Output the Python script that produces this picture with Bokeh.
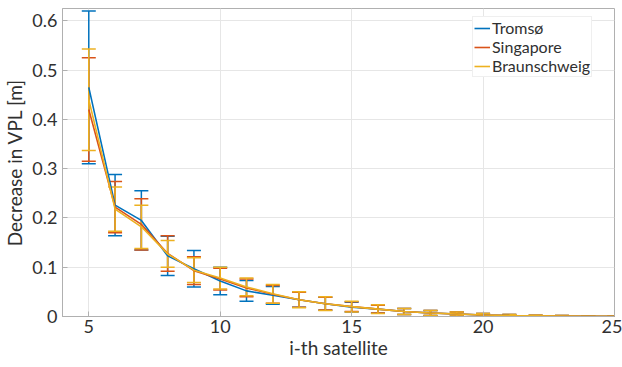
from bokeh.plotting import figure
from bokeh.models import Whisker, TeeHead, ColumnDataSource, Legend, LegendItem, FixedTicker
from bokeh.embed import file_html
from bokeh.resources import INLINE
import numpy as np

sat = list(range(5, 26))

tromso_mean = [0.465, 0.226, 0.195, 0.123, 0.097, 0.072, 0.052, 0.043, 0.034, 0.026, 0.019,
               0.015, 0.010, 0.007, 0.005, 0.003, 0.002, 0.0015, 0.001, 0.0005, 0.0002]
tromso_err = [0.155, 0.062, 0.060, 0.040, 0.037, 0.028, 0.021, 0.018, 0.015, 0.013, 0.010,
              0.008, 0.006, 0.005, 0.004, 0.003, 0.002, 0.001, 0.001, 0.0005, 0.0002]

singapore_mean = [0.420, 0.222, 0.187, 0.128, 0.093, 0.076, 0.058, 0.045, 0.034, 0.026, 0.020,
                  0.015, 0.010, 0.007, 0.005, 0.003, 0.002, 0.0015, 0.001, 0.0005, 0.0002]
singapore_err = [0.105, 0.052, 0.052, 0.036, 0.028, 0.022, 0.018, 0.018, 0.015, 0.013, 0.010,
                 0.008, 0.006, 0.005, 0.004, 0.003, 0.002, 0.001, 0.001, 0.0005, 0.0002]

braun_mean = [0.440, 0.218, 0.182, 0.127, 0.094, 0.078, 0.060, 0.046, 0.034, 0.026, 0.020,
              0.015, 0.010, 0.007, 0.005, 0.003, 0.002, 0.0015, 0.001, 0.0005, 0.0002]
braun_err = [0.103, 0.045, 0.044, 0.027, 0.025, 0.022, 0.018, 0.019, 0.016, 0.014, 0.011,
             0.009, 0.006, 0.005, 0.004, 0.003, 0.002, 0.001, 0.001, 0.0005, 0.0002]

names = ["Tromsø", "Singapore", "Braunschweig"]
colors = ["#0072BD", "#D95319", "#EDB120"]
x_ticks = [5, 10, 15, 20, 25]
y_ticks = [0, 0.1, 0.2, 0.3, 0.4, 0.5, 0.6]

FONT = "Lato"
TXT = "#303030"

p = figure(width=622, height=367, output_backend="svg", toolbar_location=None,
           x_range=(4, 25), y_range=(0, 0.625),
           min_border_left=62, min_border_right=8, min_border_top=8, min_border_bottom=51,
           x_axis_label="i-th satellite", y_axis_label="Decrease in VPL [m]")

p.outline_line_color = "#b0b0b0"
p.background_fill_color = "white"
p.border_fill_color = "white"

for ax in [p.xaxis[0], p.yaxis[0]]:
    ax.axis_line_color = "#b0b0b0"
    ax.major_tick_line_color = "#b0b0b0"
    ax.major_tick_in = 5
    ax.major_tick_out = 0
    ax.minor_tick_line_color = None
    ax.major_label_text_font = FONT
    ax.major_label_text_font_size = "18px"
    ax.major_label_text_color = TXT
    ax.axis_label_text_font = FONT
    ax.axis_label_text_font_size = "19px"
    ax.axis_label_text_font_style = "normal"
    ax.axis_label_text_color = TXT

p.xaxis.ticker = FixedTicker(ticks=x_ticks)
p.yaxis.ticker = FixedTicker(ticks=y_ticks)
p.xaxis.major_label_standoff = 3
p.yaxis.major_label_standoff = 5
p.xaxis.axis_label_standoff = 0
p.yaxis.axis_label_standoff = 3

p.grid.grid_line_color = "#e6e6e6"
p.grid.grid_line_width = 1

series = [(tromso_mean, tromso_err), (singapore_mean, singapore_err), (braun_mean, braun_err)]
items = []
for (m, e), name, c in zip(series, names, colors):
    m = np.array(m)
    e = np.array(e)
    src = ColumnDataSource(dict(x=sat, y=m, lo=m - e, hi=m + e))
    w = Whisker(source=src, base="x", upper="hi", lower="lo", dimension="height",
                line_color=c, line_width=1.5,
                upper_head=TeeHead(size=14, line_color=c, line_width=1.5),
                lower_head=TeeHead(size=14, line_color=c, line_width=1.5))
    p.add_layout(w)
    r = p.line("x", "y", source=src, line_color=c, line_width=1.6)
    items.append(LegendItem(label=name, renderers=[r]))

legend = Legend(items=items, location=(410, 239), margin=0,
                label_text_font=FONT, label_text_font_size="16px", label_text_color=TXT,
                glyph_width=16, glyph_height=18, label_height=18, label_standoff=2,
                spacing=0, padding=1, border_line_color="#e0e0e0", background_fill_alpha=1.0)
p.add_layout(legend, "center")

open("out.html", "w").write(file_html(p, INLINE))
